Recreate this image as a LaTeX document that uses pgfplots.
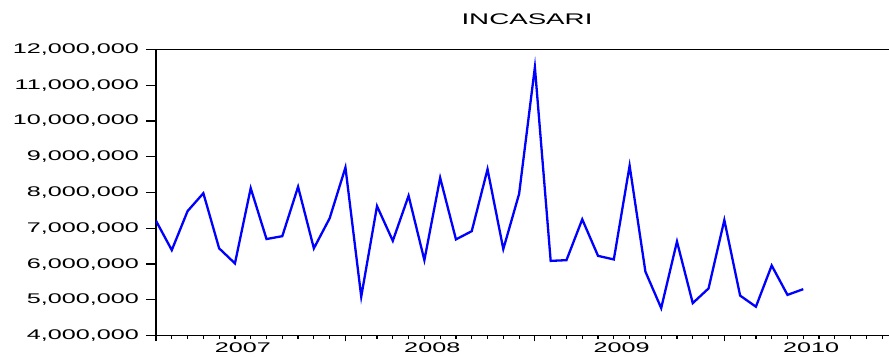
\documentclass[border=0pt]{standalone}
\usepackage{fontspec}
\setmainfont{Liberation Sans}[FakeStretch=1.8]
\usepackage{pgfplots}
\pgfplotsset{compat=1.18}
\begin{document}
\begin{tikzpicture}
\begin{axis}[
  name=ax, at={(0,0)}, anchor=south west,
  scale only axis, width=371pt, height=143.2pt,
  xmin=0, xmax=47, ymin=4000000, ymax=12000000,
  axis line style={black, line width=0.7pt},
  tick align=outside,
  xtick pos=left, ytick pos=left,
  xtick={0,12,24,36}, xticklabels={},
  minor xtick={0,1,...,47},
  major tick length=2.8pt, minor tick length=1.5pt,
  tick style={black, line width=0.6pt},
  extra x ticks={5.5,17.5,29.5,41.5},
  extra x tick labels={2007,2008,2009,2010},
  extra x tick style={major tick length=0pt, grid=none, tick style={draw=none}},
  ytick=\empty,
  extra y ticks={4000000,5000000,...,12000000},
  extra y tick style={major tick length=5pt, grid=none},
  scaled y ticks=false,
  /pgf/number format/assume math mode=true,
  yticklabel style={/pgf/number format/fixed, /pgf/number format/precision=0, /pgf/number format/1000 sep={,}},
  tick label style={font=\fontsize{7}{8}\selectfont},
  title={INCASARI},
  title style={font=\fontsize{7.7}{9}\selectfont, at={(0.5,1)}, anchor=base, yshift=6.65pt},
]
\addplot[blue, line width=1.15pt] coordinates {
(0,7210000) (1,6390000) (2,7480000) (3,7980000) (4,6440000) (5,6020000)
(6,8120000) (7,6700000) (8,6780000) (9,8160000) (10,6440000) (11,7280000)
(12,8700000) (13,5090000) (14,7620000) (15,6650000) (16,7910000) (17,6110000)
(18,8410000) (19,6690000) (20,6920000) (21,8650000) (22,6420000) (23,7960000)
(24,11500000) (25,6090000) (26,6110000) (27,7250000) (28,6230000) (29,6130000)
(30,8750000) (31,5790000) (32,4770000) (33,6630000) (34,4910000) (35,5320000)
(36,7230000) (37,5120000) (38,4810000) (39,5960000) (40,5140000) (41,5300000)
};
\end{axis}
\pgfresetboundingbox
\path[use as bounding box] (-78pt,-10.65pt) rectangle (366.5pt,167.85pt);
\end{tikzpicture}
\end{document}
